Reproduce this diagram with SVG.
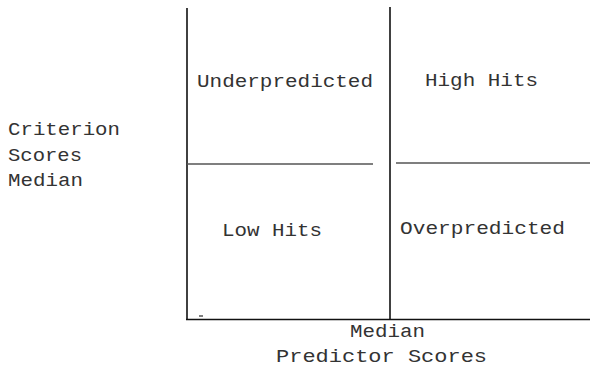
<svg xmlns="http://www.w3.org/2000/svg" width="591" height="366" viewBox="0 0 591 366">
<style>
text{font-family:"Liberation Mono","DejaVu Sans Mono",monospace;font-size:18px;fill:#333}
.v{stroke:#111;stroke-width:1.6;fill:none}
.h{stroke:#555;stroke-width:1.5;fill:none}
</style>
<rect width="591" height="366" fill="#fff"/>
<g id="connectors">
<line class="v" x1="187" y1="8" x2="187" y2="320"/>
<line class="v" x1="390" y1="7" x2="390" y2="320"/>
<line class="v" x1="186" y1="319.5" x2="590" y2="319.5"/>
<line class="h" x1="187" y1="164" x2="373" y2="164"/>
<line class="h" x1="396" y1="163" x2="590" y2="163"/>
<line class="h" x1="199" y1="316" x2="203" y2="316"/>
</g>
<g id="underpredicted"><text x="197" y="87" textLength="176" lengthAdjust="spacingAndGlyphs">Underpredicted</text></g>
<g id="high-hits"><text x="425" y="86" textLength="113" lengthAdjust="spacingAndGlyphs">High Hits</text></g>
<g id="low-hits"><text x="222" y="236" textLength="100" lengthAdjust="spacingAndGlyphs">Low Hits</text></g>
<g id="overpredicted"><text x="400" y="234" textLength="165" lengthAdjust="spacingAndGlyphs">Overpredicted</text></g>
<g id="criterion-label">
<text x="8" y="135" textLength="112" lengthAdjust="spacingAndGlyphs">Criterion</text>
<text x="8" y="161" textLength="74" lengthAdjust="spacingAndGlyphs">Scores</text>
<text x="8" y="186" textLength="75" lengthAdjust="spacingAndGlyphs">Median</text>
</g>
<g id="predictor-label">
<text x="350" y="337" textLength="75" lengthAdjust="spacingAndGlyphs">Median</text>
<text x="276" y="362" textLength="211" lengthAdjust="spacingAndGlyphs">Predictor Scores</text>
</g>
</svg>
